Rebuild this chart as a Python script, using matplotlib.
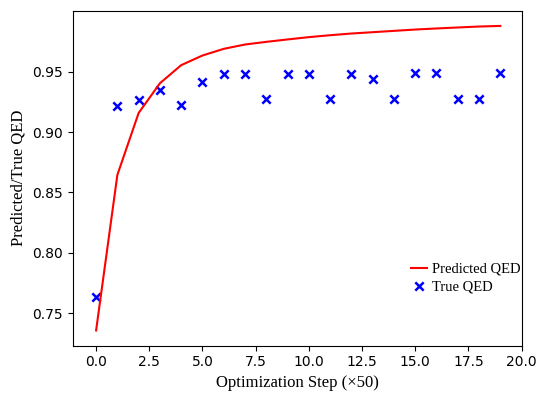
import matplotlib
matplotlib.use("Agg")
import matplotlib.pyplot as plt
import numpy as np

# optimization steps (x50)
steps = list(range(20))

# predicted QED (line)
pred_qed = [0.7357, 0.8646, 0.9159, 0.9405, 0.9555, 0.9635, 0.9690, 0.9726, 0.9748, 0.9768,
            0.9787, 0.9803, 0.9817, 0.9828, 0.9839, 0.9850, 0.9859, 0.9867, 0.9875, 0.9880]

# true QED (crosses)
true_qed = [0.7638, 0.9219, 0.9266, 0.9349, 0.9227, 0.9415, 0.9478, 0.9478, 0.9272, 0.9478,
            0.9478, 0.9272, 0.9478, 0.9437, 0.9272, 0.9489, 0.9489, 0.9272, 0.9272, 0.9489]

serif = ['Liberation Serif', 'DejaVu Serif']

fig = plt.figure(figsize=(5.45, 3.93), dpi=100)
ax = fig.add_axes([0.1334, 0.1204, 0.8236, 0.8524])

ax.plot(steps, pred_qed, color='red', linewidth=1.5, label='Predicted QED')
ax.scatter(steps, true_qed, marker='x', color='blue', s=36, linewidths=1.8, label='True QED')

ax.set_xlim(-1.1, 20)
ax.set_xticks(np.arange(0, 20.1, 2.5))
ax.set_yticks([0.75, 0.80, 0.85, 0.90, 0.95])

ax.set_xlabel('Optimization Step (\u00d750)', family=serif, fontsize=12)
ax.set_ylabel('Predicted/True QED', family=serif, fontsize=12)

ax.legend(loc='lower right', bbox_to_anchor=(1.028, 0.118), frameon=False,
          prop={'family': serif, 'size': 10.5}, handlelength=1.1, handletextpad=0.4,
          labelspacing=0.27)

fig.savefig('out.png', dpi=100)
